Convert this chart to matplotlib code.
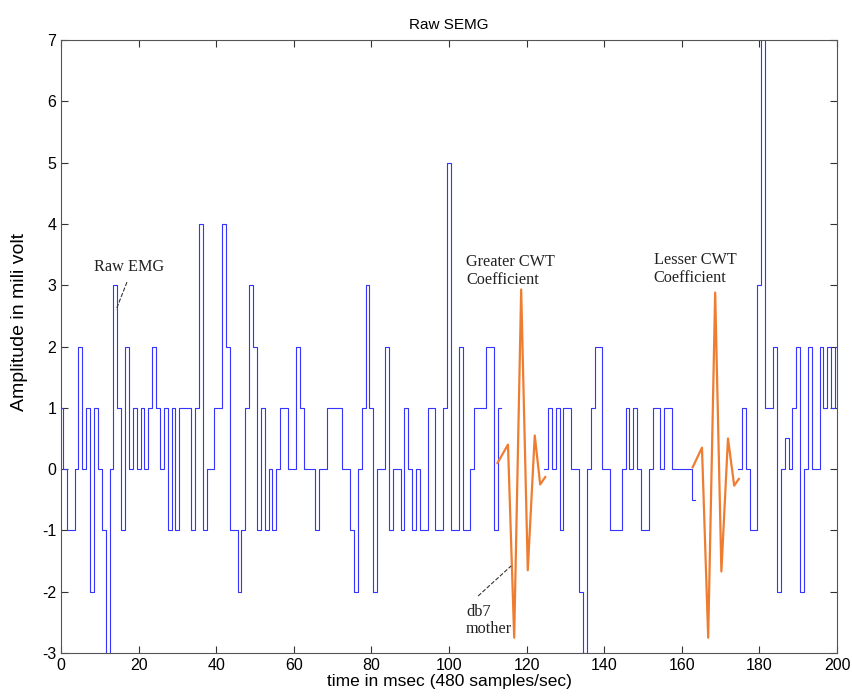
import numpy as np
import matplotlib
matplotlib.use("Agg")
import matplotlib.pyplot as plt

plt.rcParams['axes.unicode_minus'] = False

# raw SEMG samples, one per msec (nan = hidden behind the wavelets)
nan = np.nan
emg = [1, 0, -1, -1, 0, 2, 0, 1, -2, 1,
       0, -1, -3.5, 0, 3, 1, -1, 2, 0, 1,
       0, 1, 0, 1, 2, 1, 0, 1, -1, 1,
       -1, 1, 1, 1, -1, 1, 4, -1, 0, 0,
       1, 1, 4, 2, -1, -1, -2, -1, 1, 3,
       2, -1, 1, -1, 0, -1, 0, 1, 1, 0,
       0, 2, 1, 0, 0, 0, -1, 0, 0, 1,
       1, 1, 1, 0, 0, -1, -2, 0, 1, 3,
       1, -2, 0, 0, 2, -1, 0, 0, -1, 1,
       0, -1, 0, -1, -1, 1, 1, -1, -1, 1,
       5, -1, -1, 2, -1, -1, 0, 1, 1, 1,
       2, 2, -1, 1, nan, nan, nan, nan, nan, nan,
       nan, nan, nan, nan, nan, 0, 1, 0, 1, -1,
       1, 1, 0, 0, -2, -3, 0, 1, 2, 2,
       0, 0, -1, -1, -1, 0, 1, 0, 1, 0,
       -1, -1, 0, 1, 1, 0, 1, 1, 0, 0,
       0, 0, 0, -0.5, nan, nan, nan, nan, nan, nan,
       nan, nan, nan, nan, nan, 0, 1, 0, -1, -1,
       3, 7.5, 1, 1, 2, -2, 0, 0.5, 0, 1,
       2, -2, 0, 2, 0, 0, 2, 1, 2, 1,
       2]
t = np.arange(len(emg))

# db7 mother wavelet overlays
w1_t = [112.5, 115.2, 116.8, 118.6, 120.3, 122.1, 123.5, 124.8]
w1_v = [0.1, 0.4, -2.75, 2.93, -1.65, 0.55, -0.25, -0.13]
w2_t = [162.8, 165.2, 166.8, 168.6, 170.2, 171.9, 173.5, 174.7]
w2_v = [0.03, 0.35, -2.75, 2.88, -1.67, 0.5, -0.27, -0.16]

fig = plt.figure(figsize=(8.52, 6.97), dpi=100)
ax = fig.add_axes([0.0716, 0.0631, 0.9108, 0.8795])

ax.plot(t, emg, drawstyle='steps-mid', color='#3535ff', lw=0.8)
ax.plot(w1_t, w1_v, color='#ee7d31', lw=1.6)
ax.plot(w2_t, w2_v, color='#ee7d31', lw=1.6)

ax.set_xlim(0, 200)
ax.set_ylim(-3, 7)
ax.set_xticks(range(0, 201, 20))
ax.set_yticks(range(-3, 8))
ax.tick_params(direction='in', length=5, top=True, right=True,
               labelsize=11.5, color='#333333')
for lab in ax.get_xticklabels() + ax.get_yticklabels():
    lab.set_family('Liberation Sans')
for s in ax.spines.values():
    s.set_color('#555555')
    s.set_linewidth(0.8)

ax.set_title('Raw SEMG', fontsize=11, family='Liberation Sans', pad=8)
ax.set_xlabel('time in msec (480 samples/sec)', fontsize=12.5,
              family='Liberation Sans', labelpad=1)
ax.set_ylabel('Amplitude in mili volt', fontsize=14,
              family='Liberation Sans')
ax.yaxis.set_label_coords(-0.042, 0.54)

serif = dict(family='Liberation Serif', fontsize=11.7, color='#222222')
ax.text(8.5, 3.3, 'Raw EMG', ha='left', va='center', **serif)
ax.plot([17, 14.2], [3.05, 2.6], color='#333333', lw=0.8, ls='--')
ax.text(104.4, 3.23, 'Greater CWT\nCoefficient', ha='left', va='center',
        linespacing=1.15, **serif)
ax.text(152.8, 3.27, 'Lesser CWT\nCoefficient', ha='left', va='center',
        linespacing=1.15, **serif)
ax.text(104.4, -2.47, 'db7\nmother', ha='left', va='center',
        linespacing=1.15, **serif)
ax.plot([107.5, 116], [-2.07, -1.58], color='#333333', lw=0.8, ls='--')

fig.savefig('out.png', dpi=100)
